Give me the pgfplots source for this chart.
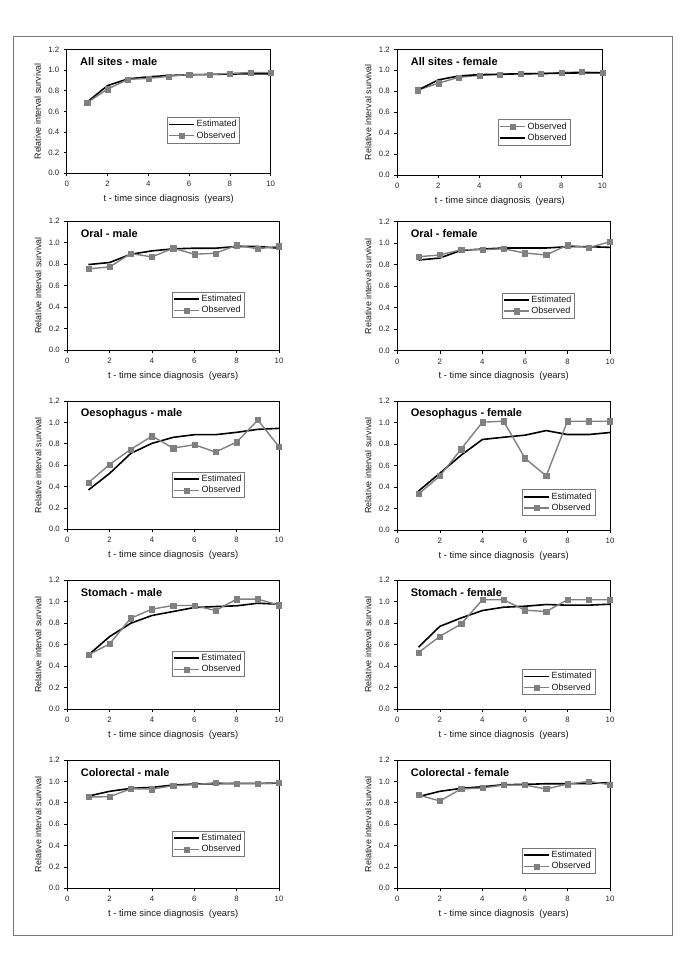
\documentclass[border=0pt]{standalone}
\usepackage{fontspec}
\setmainfont{Liberation Sans}
\usepackage{pgfplots}
\pgfplotsset{compat=1.18}
\definecolor{obsgray}{RGB}{128,128,128}
\definecolor{framegray}{RGB}{120,120,120}
\pgfplotsset{
  panel/.style={
    scale only axis, clip=false,
    xmin=0, xmax=10, ymin=0, ymax=1.2,
    xtick={0,2,4,6,8,10},
    ytick={0,0.2,0.4,0.6,0.8,1.0,1.2},
    axis line style={black, line width=0.8pt},
    tick align=outside,
    xtick pos=bottom, ytick pos=left,
    major tick length=3pt,
    tick style={black, line width=0.6pt},
    /pgf/number format/assume math mode=true,
    yticklabel style={/pgf/number format/fixed, /pgf/number format/fixed zerofill, /pgf/number format/precision=1},
    ticklabel style={font=\fontsize{7.8}{8}\selectfont, text=black!85},
    xticklabel style={yshift=-1.5pt},
    yticklabel style={xshift=-1pt},
    legend style={draw=framegray, line width=0.5pt, fill=white,
      font=\fontsize{9}{10}\selectfont, text=black!90,
      anchor=north west, inner sep=1.5pt, row sep=0pt,
      nodes={inner sep=1.6pt}},
    legend cell align=left,
    legend image code/.code={\draw[mark repeat=2, mark phase=2] plot coordinates {(0pt,0pt) (12.5pt,0pt) (25pt,0pt)};},
  },
  est/.style={black, line width=1.6pt, no markers},
  obs/.style={obsgray, line width=1.4pt, mark=square*, mark size=2.6pt, mark options={fill=obsgray, draw=obsgray, line width=0.3pt}},
}
\newcommand{\decor}[1]{%
  \node[anchor=west, font=\bfseries\fontsize{11}{12}\selectfont] at ([xshift=10pt,yshift=-12.5pt]rel axis cs:0,1) {#1};
  \node[font=\fontsize{9.4}{10}\selectfont, text=black!90] at ([yshift=-25.7pt]rel axis cs:0.5,0) {t - time since diagnosis\ \ (years)};
  \node[rotate=90, font=\fontsize{8.9}{10}\selectfont, text=black!90] at ([xshift=-29pt]rel axis cs:0,0.5) {Relative interval survival};
}
\begin{document}
\begin{tikzpicture}
\path[use as bounding box] (0pt,0pt) rectangle (685pt,-969pt);
\draw[framegray, line width=0.8pt] (13.5pt,-36.5pt) rectangle (672.5pt,-935pt);

% Row 1 left
\begin{axis}[panel, at={(66.7pt,-173.3pt)}, anchor=south west, width=204pt, height=123.8pt,
  legend style={at={(0.49,0.454)}}]
\addplot[est] coordinates {(1,0.69) (2,0.85) (3,0.915) (4,0.935) (5,0.948) (6,0.955) (7,0.958) (8,0.962) (9,0.965) (10,0.965)};
\addlegendentry{Estimated}
\addplot[obs] coordinates {(1,0.684) (2,0.816) (3,0.91) (4,0.92) (5,0.94) (6,0.958) (7,0.958) (8,0.968) (9,0.977) (10,0.977)};
\addlegendentry{Observed}
\decor{All sites - male}
\end{axis}

% Row 1 right
\begin{axis}[panel, at={(397.3pt,-175pt)}, anchor=south west, width=205pt, height=125.7pt,
  legend style={at={(0.49,0.444)}}]
\addplot[obs] coordinates {(1,0.81) (2,0.876) (3,0.933) (4,0.952) (5,0.959) (6,0.968) (7,0.968) (8,0.978) (9,0.984) (10,0.978)};
\addlegendentry{Observed}
\addplot[est] coordinates {(1,0.81) (2,0.908) (3,0.946) (4,0.958) (5,0.962) (6,0.966) (7,0.968) (8,0.972) (9,0.975) (10,0.975)};
\addlegendentry{Observed}
\decor{All sites - female}
\end{axis}

% Row 2 left
\begin{axis}[panel, at={(67.3pt,-350pt)}, anchor=south west, width=211.7pt, height=129pt,
  legend style={at={(0.493,0.452)}}]
\addplot[est] coordinates {(1,0.795) (2,0.814) (3,0.891) (4,0.922) (5,0.941) (6,0.947) (7,0.947) (8,0.963) (9,0.963) (10,0.947)};
\addlegendentry{Estimated}
\addplot[obs] coordinates {(1,0.755) (2,0.773) (3,0.897) (4,0.866) (5,0.947) (6,0.891) (7,0.90) (8,0.975) (9,0.941) (10,0.966)};
\addlegendentry{Observed}
\decor{Oral - male}
\end{axis}

% Row 2 right
\begin{axis}[panel, at={(397.3pt,-350.7pt)}, anchor=south west, width=212.7pt, height=129.2pt,
  legend style={at={(0.49,0.45)}}]
\addplot[est] coordinates {(1,0.842) (2,0.861) (3,0.932) (4,0.944) (5,0.954) (6,0.954) (7,0.954) (8,0.966) (9,0.966) (10,0.96)};
\addlegendentry{Estimated}
\addplot[obs] coordinates {(1,0.873) (2,0.889) (3,0.938) (4,0.938) (5,0.947) (6,0.907) (7,0.889) (8,0.981) (9,0.957) (10,1.012)};
\addlegendentry{Observed}
\decor{Oral - female}
\end{axis}

% Row 3 left
\begin{axis}[panel, at={(67.3pt,-529.3pt)}, anchor=south west, width=211.7pt, height=128.3pt,
  legend style={at={(0.493,0.449)}}]
\addplot[est] coordinates {(1,0.368) (2,0.523) (3,0.71) (4,0.804) (5,0.86) (6,0.885) (7,0.885) (8,0.907) (9,0.935) (10,0.944)};
\addlegendentry{Estimated}
\addplot[obs] coordinates {(1,0.436) (2,0.607) (3,0.748) (4,0.872) (5,0.76) (6,0.791) (7,0.723) (8,0.816) (9,1.022) (10,0.773)};
\addlegendentry{Observed}
\decor{Oesophagus - male}
\end{axis}

% Row 3 right
\begin{axis}[panel, at={(397.3pt,-530pt)}, anchor=south west, width=212.7pt, height=129pt,
  legend style={at={(0.585,0.315)}}]
\addplot[est] coordinates {(1,0.363) (2,0.528) (3,0.696) (4,0.842) (5,0.863) (6,0.882) (7,0.925) (8,0.888) (9,0.888) (10,0.907)};
\addlegendentry{Estimated}
\addplot[obs] coordinates {(1,0.335) (2,0.503) (3,0.752) (4,1.003) (5,1.012) (6,0.668) (7,0.503) (8,1.012) (9,1.012) (10,1.012)};
\addlegendentry{Observed}
\decor{Oesophagus - female}
\end{axis}

% Row 4 left
\begin{axis}[panel, at={(67.3pt,-709pt)}, anchor=south west, width=211.7pt, height=129pt,
  legend style={at={(0.493,0.452)}}]
\addplot[est] coordinates {(1,0.503) (2,0.674) (3,0.798) (4,0.87) (5,0.907) (6,0.944) (7,0.953) (8,0.96) (9,0.984) (10,0.975)};
\addlegendentry{Estimated}
\addplot[obs] coordinates {(1,0.503) (2,0.606) (3,0.845) (4,0.929) (5,0.963) (6,0.963) (7,0.916) (8,1.022) (9,1.022) (10,0.966)};
\addlegendentry{Observed}
\decor{Stomach - male}
\end{axis}

% Row 4 right
\begin{axis}[panel, at={(397.3pt,-709pt)}, anchor=south west, width=212.7pt, height=129pt,
  legend style={at={(0.585,0.31)}}]
\addplot[est] coordinates {(1,0.576) (2,0.769) (3,0.847) (4,0.916) (5,0.947) (6,0.956) (7,0.972) (8,0.966) (9,0.966) (10,0.975)};
\addlegendentry{Estimated}
\addplot[obs] coordinates {(1,0.526) (2,0.676) (3,0.791) (4,1.016) (5,1.016) (6,0.919) (7,0.907) (8,1.016) (9,1.016) (10,1.016)};
\addlegendentry{Observed}
\decor{Stomach - female}
\end{axis}

% Row 5 left
\begin{axis}[panel, at={(67.3pt,-888.3pt)}, anchor=south west, width=211.7pt, height=128.3pt,
  legend style={at={(0.493,0.449)}}]
\addplot[est] coordinates {(1,0.863) (2,0.907) (3,0.935) (4,0.944) (5,0.966) (6,0.975) (7,0.978) (8,0.981) (9,0.981) (10,0.984)};
\addlegendentry{Estimated}
\addplot[obs] coordinates {(1,0.854) (2,0.857) (3,0.931) (4,0.928) (5,0.96) (6,0.969) (7,0.988) (8,0.978) (9,0.978) (10,0.988)};
\addlegendentry{Observed}
\decor{Colorectal - male}
\end{axis}

% Row 5 right
\begin{axis}[panel, at={(397.3pt,-888.3pt)}, anchor=south west, width=212.7pt, height=128.3pt,
  legend style={at={(0.585,0.316)}}]
\addplot[est] coordinates {(1,0.858) (2,0.907) (3,0.935) (4,0.95) (5,0.969) (6,0.972) (7,0.978) (8,0.978) (9,0.981) (10,0.988)};
\addlegendentry{Estimated}
\addplot[obs] coordinates {(1,0.873) (2,0.817) (3,0.929) (4,0.938) (5,0.966) (6,0.966) (7,0.929) (8,0.975) (9,1.0) (10,0.969)};
\addlegendentry{Observed}
\decor{Colorectal - female}
\end{axis}
\end{tikzpicture}
\end{document}
